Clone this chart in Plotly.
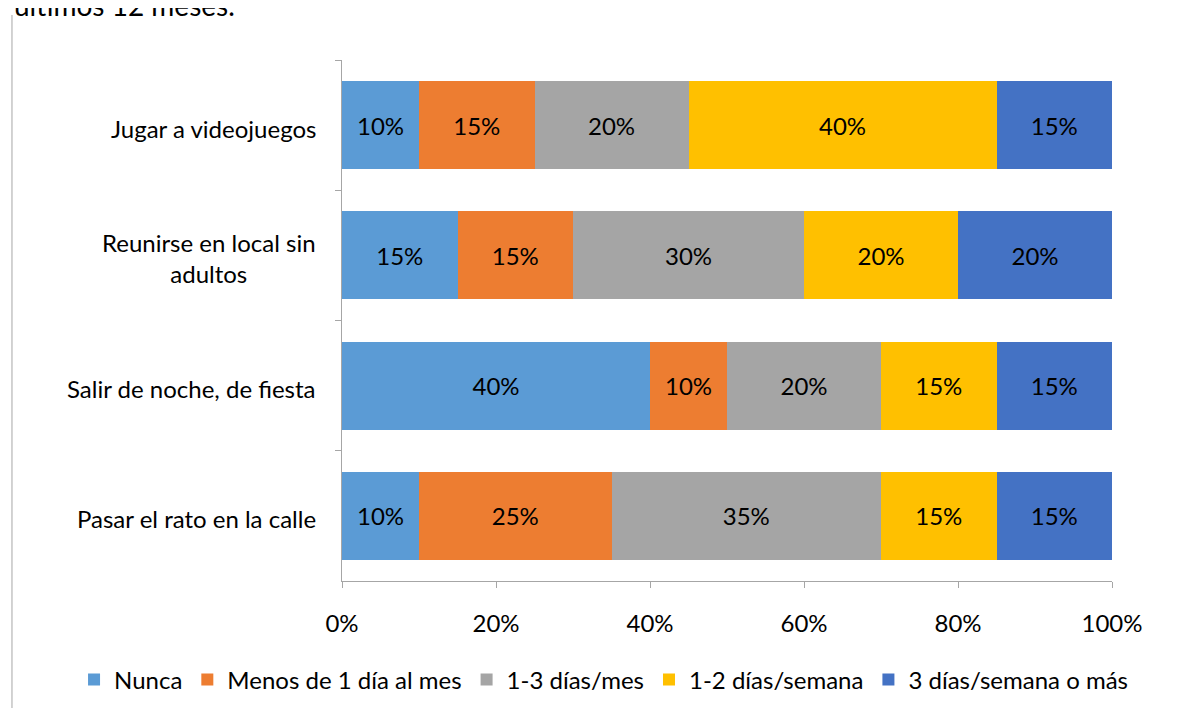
import plotly.graph_objects as go

categories = ["Jugar a videojuegos", "Reunirse en local sin<br>adultos",
              "Salir de noche, de fiesta", "Pasar el rato en la calle"]
series_names = ["Nunca", "Menos de 1 día al mes", "1-3 días/mes",
                "1-2 días/semana", "3 días/semana o más"]
nunca = [10, 15, 40, 10]
menos_1 = [15, 15, 10, 25]
dias_1_3 = [20, 30, 20, 35]
sem_1_2 = [40, 20, 15, 15]
sem_3 = [15, 20, 15, 15]
colors = ["#5B9BD5", "#ED7D31", "#A5A5A5", "#FFC000", "#4472C4"]
x_ticks = [0, 20, 40, 60, 80, 100]

FONT = "Lato"
FS = 24
fig = go.Figure()
for name, vals, col in zip(series_names, [nunca, menos_1, dias_1_3, sem_1_2, sem_3], colors):
    fig.add_trace(go.Bar(
        y=categories, x=vals, name=name, orientation="h",
        marker=dict(color=col, line=dict(width=0)),
        text=[f"{v}%" for v in vals], textposition="inside",
        insidetextanchor="middle", textangle=0,
        textfont=dict(family=FONT, size=FS, color="#000000"),
        hoverinfo="skip",
    ))

for cat in categories:
    fig.add_annotation(x=0, xref="paper", xshift=-24, xanchor="right",
                       y=cat, yref="y", yshift=-3, text=cat, showarrow=False,
                       align="center",
                       font=dict(family=FONT, size=FS, color="#000000"))

fig.add_annotation(x=-0.4286, xref="paper", xanchor="left", y=1.069, yref="paper",
                   yanchor="bottom", text="últimos 12 meses.", showarrow=False,
                   font=dict(family=FONT, size=28, color="#000000"))

fig.add_shape(type="line", xref="paper", yref="paper", x0=-0.4286, x1=-0.4286,
              y0=1.0864, y1=-0.3, line=dict(color="#A6A6A6", width=1))

fig.update_layout(
    width=1178, height=708,
    barmode="stack", bargap=0.323,
    paper_bgcolor="white", plot_bgcolor="white",
    margin=dict(l=334, r=74, t=52, b=135, autoexpand=False),
    font=dict(family=FONT, size=FS, color="#000000"),
    showlegend=True,
    legend=dict(orientation="h", x=-0.348, xanchor="left",
                y=-0.19, yanchor="middle",
                font=dict(family=FONT, size=FS, color="#000000"),
                traceorder="normal", itemclick=False, bgcolor="rgba(0,0,0,0)",
                itemwidth=30, tracegroupgap=0),
    xaxis=dict(range=[0, 100], tickvals=x_ticks, ticktext=[f"{v}%" for v in x_ticks],
               showgrid=False, zeroline=False, showline=True, linecolor="#A6A6A6",
               linewidth=1, ticks="outside", ticklen=6, tickcolor="#A6A6A6",
               ticklabelstandoff=15, tickangle=0, automargin=False,
               tickfont=dict(family=FONT, size=FS, color="#000000")),
    yaxis=dict(type="category", autorange="reversed", tickson="boundaries",
               showticklabels=False, showgrid=False, zeroline=False,
               showline=True, linecolor="#A6A6A6", linewidth=1,
               ticks="outside", ticklen=6, tickcolor="#A6A6A6"),
)

fig.write_html("out.html")
